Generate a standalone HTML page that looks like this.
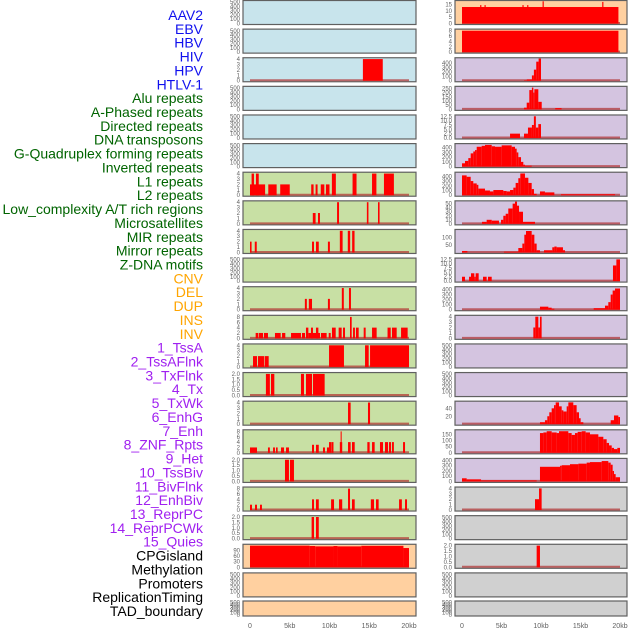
<!DOCTYPE html>
<html><head><meta charset="utf-8">
<style>
html,body{margin:0;padding:0;background:#fff;width:630px;height:630px;overflow:hidden}
svg{display:block}
text{font-family:"Liberation Sans",sans-serif}
</style></head>
<body>
<svg id="chart" width="630" height="630" viewBox="0 0 630 630"></svg>
<script>
const labels = ["AAV2","EBV","HBV","HIV","HPV","HTLV-1","Alu repeats","A-Phased repeats","Directed repeats","DNA transposons","G-Quadruplex forming repeats","Inverted repeats","L1 repeats","L2 repeats","Low_complexity A/T rich regions","Microsatellites","MIR repeats","Mirror repeats","Z-DNA motifs","CNV","DEL","DUP","INS","INV","1_TssA","2_TssAFlnk","3_TxFlnk","4_Tx","5_TxWk","6_EnhG","7_Enh","8_ZNF_Rpts","9_Het","10_TssBiv","11_BivFlnk","12_EnhBiv","13_ReprPC","14_ReprPCWk","15_Quies","CPGisland","Methylation","Promoters","ReplicationTiming","TAD_boundary"];
const labelColors = ["#1010ee","#1010ee","#1010ee","#1010ee","#1010ee","#1010ee","#006400","#006400","#006400","#006400","#006400","#006400","#006400","#006400","#006400","#006400","#006400","#006400","#006400","#ffa500","#ffa500","#ffa500","#ffa500","#ffa500","#a020f0","#a020f0","#a020f0","#a020f0","#a020f0","#a020f0","#a020f0","#a020f0","#a020f0","#a020f0","#a020f0","#a020f0","#a020f0","#a020f0","#a020f0","#000","#000","#000","#000","#000"];
const xTickValues = [0,5,10,15,20];
const xTickLabels = ["0","5kb","10kb","15kb","20kb"];
const leftBg = ["#c8e4ec","#c8e4ec","#c8e4ec","#c8e4ec","#c8e4ec","#c8e4ec","#c8e0a4","#c8e0a4","#c8e0a4","#c8e0a4","#c8e0a4","#c8e0a4","#c8e0a4","#c8e0a4","#c8e0a4","#c8e0a4","#c8e0a4","#c8e0a4","#c8e0a4","#ffd0a0","#ffd0a0","#ffd0a0"];
const rightBg = ["#ffd0a0","#ffd0a0","#d4c4e0","#d4c4e0","#d4c4e0","#d4c4e0","#d4c4e0","#d4c4e0","#d4c4e0","#d4c4e0","#d4c4e0","#d4c4e0","#d4c4e0","#d4c4e0","#d4c4e0","#d4c4e0","#d4c4e0","#d0d0d0","#d0d0d0","#d0d0d0","#d0d0d0","#d0d0d0"];
const T500=[0,100,200,300,400,500], T4=[0,1,2,3,4], T8=[0,2,4,6,8], T2=[0,0.5,1,1.5,2], T2f=["0.0","0.5","1.0","1.5","2.0"];
const leftTicks = [T500,T500,T4,T500,T500,T500,T4,T4,T4,T500,T4,T8,T4,T2,T4,T8,T2,T8,T2,[0,30,60,90],T500,T500];
const leftMax = [520,520,4.1,520,520,520,4.1,4.1,4.1,520,4.1,8.3,4.1,2.05,4.1,8.3,2.05,8.3,2.05,120,520,520];
const leftSeries = [
 [],[],
 [[14.2,16.7,4]],
 [],[],[],
 [[0,1.9,2],[0.2,0.5,4],[0.75,1.1,4],[2.3,3.35,2],[3.8,5.0,2],[7.7,8.0,2],[8.25,8.5,2],[8.9,9.35,2],[9.55,10.0,2],[10.3,10.8,4],[12.9,13.4,4],[15.35,15.9,4],[16.85,18.1,4]],
 [[7.9,8.25,2],[8.55,8.8,2],[10.95,11.2,4],[14.7,14.9,4],[16.1,16.3,4]],
 [[0,0.2,2],[0.6,0.85,2],[7.8,8.05,2],[8.3,8.65,2],[9.8,10.05,2],[11.3,11.65,4],[12.3,12.6,4],[12.85,13.15,4]],
 [],
 [[6.9,7.15,2],[7.4,7.8,2],[9.8,10.05,2],[11.55,11.8,4],[12.45,12.7,4]],
 [[0.71,1.05,2],[1.13,1.64,2],[1.76,2.26,2],[3.14,3.86,2],[4.03,4.44,2],[5.16,6.41,2],[6.54,6.92,2],[7.04,7.34,4],[7.34,8.81,2],[7.67,7.92,4],[8.3,8.6,4],[8.93,9.64,2],[9.9,10.15,2],[10.31,10.78,4],[11.15,11.53,4],[11.7,11.95,4],[12.58,12.79,8],[12.96,13.2,4],[13.33,13.67,4],[14.3,14.55,4],[15.35,15.93,4],[17.3,17.7,4],[17.86,18.45,4],[19.0,19.83,4]],
 [[0.38,0.88,2],[1.0,1.76,2],[1.84,2.35,2],[9.94,11.82,4],[14.47,14.93,4],[15.1,20,4]],
 [[2.0,2.5,2],[2.64,3.06,2],[6.41,6.79,2],[7.04,7.8,2],[7.92,9.39,2]],
 [[12.33,12.66,4],[14.84,15.1,4]],
 [[0,0.88,2],[2.26,2.5,2],[2.9,3.14,2],[3.27,3.48,2],[3.9,4.28,2],[4.53,4.9,2],[7.8,8.05,3],[8.3,8.65,3],[9.18,9.43,2],[9.68,9.94,2],[9.94,10.27,4],[10.3,10.5,4],[11.3,11.6,4],[11.4,11.53,8],[12.33,12.66,4],[12.83,13.17,4],[14.76,15.05,4],[15.35,15.68,4],[16.35,16.73,4],[16.98,17.36,4],[17.48,17.74,4],[17.86,18.1,4],[19.25,19.5,4]],
 [[4.4,4.9,2],[5.03,5.53,2]],
 [[0,0.25,2],[0.63,0.88,2],[1.26,1.5,2],[7.8,8.05,4],[8.3,8.65,4],[10.2,10.57,4],[11.2,11.6,4],[12.33,12.58,8],[12.83,13.17,4],[15.2,15.6,4],[15.85,16.18,4],[18.75,19.1,4],[19.5,19.75,4]],
 [[7.75,8.05,2],[8.3,8.65,2]],
 [[0,7.5,117],[7.5,8.2,115],[8.2,10.5,113],[10.5,11,115],[11,14,113],[14,19.3,116],[19.3,20,104]],
 [],[]
];
const rightTicks = [[0,5,10,15],T8,[0,100,200,300,400],[0,50,100,150,200,250],[0,2.5,5,7.5,10,12.5],[0,100,200,300,400],[0,100,200,300,400],[0,10,20,30,40,50],[50,100],[0,2.5,5,7.5,10,12.5],[0,100,200,300,400],T4,T500,T500,[20,40],[0,50,100,150],[0,100,200,300,400],T4,T500,T2,T500,T500];
const rightMax = [17.5,8.3,500,265,12.8,470,470,55,150,12.8,440,4.1,520,520,56,180,425,4.1,520,2.05,520,520];
const rightSeries = [
 [[0,19.8,13],[2.3,2.45,14.5],[2.85,3.0,14.5],[7.65,7.8,14.5],[8.25,8.4,14.5],[10.2,10.35,17.5],[17.75,17.9,17]],
 [[0,19.8,8]],
 [[7.85,8.2,10],[8.2,8.85,30],[8.85,9.1,120],[9.1,9.4,250],[9.4,9.7,430],[9.7,10.0,500]],
 [[7.85,8.19,20],[8.19,8.52,80],[8.52,8.85,230],[8.85,9.03,260],[9.03,9.16,200],[9.16,9.66,240],[9.66,10.09,90],[11.8,12.6,15]],
 [[6.08,7.34,2.5],[7.85,8.35,2.5],[8.35,8.85,6],[8.85,9.1,7.5],[9.1,9.35,12.5],[9.35,9.66,6],[9.66,10.0,8]],
 [[0,0.38,70],[0.38,0.8,120],[0.8,1.1,180],[1.1,1.43,280],[1.43,1.65,320],[1.65,1.86,350],[1.86,2.49,420],[2.49,2.91,440],[2.91,3.76,460],[3.76,4.18,430],[4.18,5.02,420],[5.02,6.29,450],[6.29,6.71,420],[6.71,6.92,380],[6.92,7.13,300],[7.13,7.47,200],[7.47,7.76,100],[7.76,7.97,40],[7.97,8.82,20]],
 [[0,0.59,420],[0.59,1.1,390],[1.1,1.43,300],[1.43,1.86,250],[1.86,2.07,220],[2.07,2.91,140],[2.91,3.54,100],[3.54,3.97,80],[3.97,5.23,110],[5.23,5.65,90],[5.65,6.08,80],[6.08,6.5,110],[6.5,6.79,160],[6.79,7.13,260],[7.13,7.38,360],[7.38,7.97,460],[7.97,8.4,370],[8.4,8.82,260],[8.82,9.11,130],[9.11,9.45,30],[9.87,10.5,80],[10.5,11.69,60],[12.53,19.37,20]],
 [[2.53,3.12,5],[3.12,3.76,10],[3.76,4.68,8],[4.94,5.23,10],[5.23,5.53,20],[5.53,5.86,25],[5.86,6.41,38],[6.41,6.71,50],[6.71,6.96,55],[6.96,7.22,45],[7.22,7.72,30],[7.72,9.24,5]],
 [[0,0.68,10],[5.32,7.13,5],[7.13,7.64,30],[7.64,7.89,60],[7.89,8.1,120],[8.1,8.82,145],[8.82,9.16,120],[9.16,9.45,60],[9.45,9.87,15],[10.38,11.43,15],[11.43,11.69,35],[11.69,11.98,40],[11.98,12.78,35],[12.78,13.04,15]],
 [[0,0.38,2.5],[0.89,1.14,2.5],[1.14,1.56,4.5],[1.56,1.73,2.5],[1.73,2.11,4.5],[2.66,3.12,2.5],[3.29,3.76,2.5],[19.11,19.54,9],[19.54,20,12.5]],
 [[9.87,10.93,60],[10.93,11.35,40],[11.35,11.69,20],[16.67,18.1,30],[18.1,18.52,80],[18.52,18.82,150],[18.82,19.07,300],[19.07,19.37,380],[19.37,20,420]],
 [[9.03,9.28,2],[9.28,9.66,4],[9.66,9.87,2],[9.87,10.08,4]],
 [],[],
 [[9.87,10.5,5],[10.5,10.8,10],[10.8,11.05,20],[11.05,11.35,30],[11.35,11.65,40],[11.65,11.86,48],[11.86,12.28,55],[12.28,12.62,45],[12.62,12.83,35],[12.83,13.25,32],[13.25,13.46,45],[13.46,14.09,55],[14.09,14.51,48],[14.51,14.81,30],[14.81,15.02,15],[15.02,15.36,5],[18.82,19.24,10],[19.24,19.79,22],[19.79,20,18]],
 [[9.87,10.3,160],[10.3,10.72,165],[10.72,11.35,175],[11.35,11.98,165],[11.98,12.28,160],[12.28,13.46,175],[13.46,13.88,160],[13.88,14.3,145],[14.3,14.64,160],[14.64,15.15,170],[15.15,15.65,175],[15.65,16.2,165],[16.2,17.26,150],[17.26,17.89,130],[17.89,18.31,110],[18.31,18.61,80],[18.61,18.95,60],[18.95,19.24,40],[19.24,19.66,30],[19.66,20,40]],
 [[0,0.59,60],[0.59,2.41,40],[2.41,9.45,20],[9.87,12.41,280],[12.41,12.62,300],[12.62,13.67,310],[13.67,14.73,330],[14.73,15.78,340],[15.78,16.2,360],[16.2,17.68,370],[17.68,18.52,390],[18.52,18.82,360],[18.82,19.07,320],[19.07,19.24,200],[19.24,19.45,140],[19.45,20,80]],
 [[9.24,9.75,2],[9.75,10.08,4]],
 [],
 [[9.45,9.87,2]],
 [],[]
];

const NS="http://www.w3.org/2000/svg";
const svg=document.getElementById('chart');
function mk(tag,attrs,parent){const e=document.createElementNS(NS,tag);for(const k in attrs)e.setAttribute(k,attrs[k]);(parent||svg).appendChild(e);return e;}

// labels
const LP=(611-15)/(labels.length-1);
labels.forEach((l,i)=>{
  const t=mk('text',{x:203,y:15+i*LP+5,'text-anchor':'end','font-size':'14',fill:labelColors[i]});
  t.textContent=l;
  
  
});

function rowGeom(r){ if(r===21) return {top:601,h:15}; return {top:r*28.62+0.5,h:24}; }
const cols=[{x0:243,x1:416,kb0:250,kb20:409,bg:leftBg,ticks:leftTicks,max:leftMax,series:leftSeries,name:'left'},
            {x0:455,x1:627,kb0:462,kb20:620,bg:rightBg,ticks:rightTicks,max:rightMax,series:rightSeries,name:'right'}];
function fmt(v,ticks){const dec=ticks.some(t=>t%1!==0);return dec?v.toFixed(1):String(v);}
cols.forEach(c=>{
  const xs=kb=>c.kb0+(c.kb20-c.kb0)*kb/20;
  for(let r=0;r<22;r++){
    const g=rowGeom(r);
    const grp=mk('g',{});
    
    
    mk('rect',{x:c.x0,y:g.top,width:c.x1-c.x0,height:g.h,fill:c.bg[r],stroke:'#606060','stroke-width':1.2},grp);
    const yb=g.top+g.h-1, yt=g.top+0.8;
    const ys=v=>yb-(yb-yt)*v/c.max[r];
    const segs=c.series[r];
    if(segs.length){
      mk('line',{x1:xs(0),x2:xs(20),y1:yb-0.5,y2:yb-0.5,stroke:'#b03030','stroke-opacity':0.7,'stroke-width':2},grp);
    }
    segs.forEach(s=>{
      const b=mk('rect',{x:xs(s[0]),y:ys(s[2]),width:Math.max(0.8,xs(s[1])-xs(s[0])),height:yb-ys(s[2]),fill:'#ff0000'},grp);
      
      
    });
    const tk=c.ticks[r];
    tk.forEach(v=>{
      const t=mk('text',{x:c.x0-3,y:ys(v)+2,'text-anchor':'end','font-size':'6',fill:'#606060'},grp);
      t.textContent=fmt(v,tk);
    });
  }
  xTickValues.forEach((v,i)=>{
    const t=mk('text',{x:xs(v),y:628,'text-anchor':'middle','font-size':'7',fill:'#606060'});
    t.textContent=xTickLabels[i];
    
    
  });
});
</script>
</body></html>
